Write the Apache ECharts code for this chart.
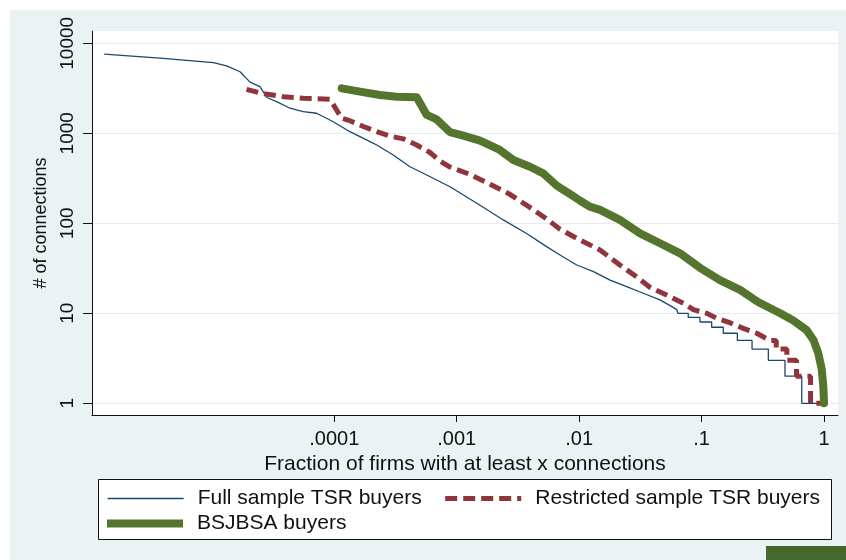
<!DOCTYPE html>
<html>
<head>
<meta charset="utf-8">
<script src="https://cdn.jsdelivr.net/npm/echarts@6/dist/echarts.min.js"></script>
<style>
    html, body { margin: 0; padding: 0; background: #fff; }
    #chart { width: 846px; height: 560px; }
</style>
</head>
<body>
<div id="chart"></div>
<script>
// Tên các đường
var seriesNames = ['Full sample TSR buyers', 'Restricted sample TSR buyers', 'BSJBSA buyers'];

// Full sample TSR buyers: x = fraction of firms, y = # of connections
var fullX = [1.32e-6, 4.0e-6, 1.03e-5, 1.32e-5, 1.70e-5, 2.05e-5, 2.47e-5, 2.81e-5, 3.38e-5, 4.35e-5,
    5.58e-5, 7.18e-5, 9.82e-5, 1.34e-4, 1.96e-4, 2.22e-4, 3.03e-4, 4.15e-4, 5.69e-4, 8.81e-4,
    1.46e-3, 2.40e-3, 3.72e-3, 5.42e-3, 6.97e-3, 9.55e-3, 0.0131, 0.0179, 0.0244, 0.0334,
    0.0457, 0.0562, 0.0627, 0.064, 0.0778, 0.0778, 0.097, 0.097, 0.1208, 0.1208,
    0.1503, 0.1503, 0.1959, 0.1959, 0.2582, 0.2582, 0.3508, 0.3508, 0.4797, 0.4797,
    0.6577, 0.6577, 1];
var fullY = [7600, 6810, 6090, 5600, 4830, 3700, 3300, 2500, 2245, 1900,
    1740, 1670, 1345, 1042, 807, 741, 574, 425, 344, 255,
    167, 109, 77, 55, 44.5, 34.4, 29, 23.4, 19.8, 16.7,
    14.1, 12, 11, 10, 10, 9, 9, 8, 8, 7,
    7, 6, 6, 5, 5, 4, 4, 3, 3, 2,
    2, 1, 1];

// Restricted sample TSR buyers
var restrictedX = [1.92e-5, 2.55e-5, 3.85e-5, 5.58e-5, 9.23e-5, 1.15e-4, 1.34e-4, 1.73e-4, 2.22e-4, 2.85e-4,
    3.66e-4, 4.71e-4, 6.05e-4, 7.29e-4, 8.81e-4, 1.28e-3, 1.87e-3, 2.72e-3, 3.96e-3, 5.42e-3,
    6.97e-3, 0.0102, 0.0148, 0.0215, 0.0294, 0.0378, 0.0552, 0.071, 0.0855, 0.11,
    0.133, 0.165, 0.219, 0.282, 0.36, 0.407, 0.407, 0.497, 0.497, 0.596,
    0.596, 0.776, 0.776, 1];
var restrictedY = [3083, 2782, 2553, 2450, 2387, 1468, 1380, 1190, 1042, 930,
    868, 741, 612, 494, 422, 350, 272, 210, 150, 112,
    86, 65, 50.5, 34.4, 25.5, 19.5, 15.3, 12.9, 11, 10,
    8.8, 8, 6.8, 6, 5, 5, 4, 4, 3, 3,
    2, 2, 1, 1];

// BSJBSA buyers
var bsjbsaX = [1.15e-4, 1.62e-4, 2.36e-4, 3.23e-4, 4.71e-4, 5.69e-4, 6.85e-4, 8.81e-4, 1.13e-3, 1.55e-3,
    2.25e-3, 2.90e-3, 3.96e-3, 5.09e-3, 6.55e-3, 8.95e-3, 0.0102, 0.0122, 0.0148, 0.0215,
    0.0314, 0.0457, 0.0667, 0.097, 0.141, 0.206, 0.264, 0.3, 0.438, 0.561,
    0.721, 0.819, 0.897, 0.957, 0.986, 1];
var bsjbsaY = [3160, 2900, 2665, 2553, 2512, 1600, 1431, 1030, 940, 830,
    653, 505, 425, 359, 262, 200, 178, 153, 141, 109,
    77.4, 60, 46.4, 32, 23.4, 18.2, 14.5, 13, 10, 8.3,
    6.5, 5.05, 3.6, 2.4, 1.55, 1];

// Nhãn trục
var xTickValues = [0.0001, 0.001, 0.01, 0.1, 1];
var xTickLabels = ['.0001', '.001', '.01', '.1', '1'];
var yTickValues = [1, 10, 100, 1000, 10000];
var yTickLabels = ['1', '10', '100', '1000', '10000'];

var colors = ['#1a476f', '#90353b', '#55752f'];
var widths = [1.3, 5, 8];

function toPairs(xs, ys) {
    return xs.map((x, i) => [x, ys[i]]);
}

function tickFormatter(values, labels) {
    return function (v) {
        var i = values.findIndex(t => Math.abs(Math.log10(t) - Math.log10(v)) < 0.01);
        return i >= 0 ? labels[i] : '';
    };
}

// mục chú thích, độ dày nét giống đường vẽ
function legendItem(i) {
    return { name: seriesNames[i], lineStyle: { width: widths[i], cap: 'butt' } };
}

function drawChart() {
    var chartDom = document.getElementById('chart');
    var myChart = echarts.init(chartDom, null, { renderer: 'canvas' });

    var textColor = '#111';
    var legendText = {
        fontSize: 21,
        fontFamily: 'Liberation Sans',
        color: textColor,
        lineHeight: 14,
        padding: [0, 0, 0, 9]
    };

    var option = {
        backgroundColor: '#fff',
        animation: false,
        graphic: [
            // nền xám xanh bên ngoài vùng vẽ
            { type: 'rect', z: -10, silent: true, shape: { x: 10, y: 10, width: 836, height: 550 }, style: { fill: '#eaf2f3' } },
            // khung chú thích
            { type: 'rect', z: 1, silent: true, shape: { x: 98.5, y: 479.5, width: 733, height: 60 }, style: { fill: '#fff', stroke: '#111', lineWidth: 1 } },
            { type: 'rect', z: 1, silent: true, shape: { x: 766, y: 546, width: 80, height: 14 }, style: { fill: '#46682c' } }
        ],
        grid: {
            left: 92,
            right: 8,
            top: 31,
            bottom: 145,
            show: true,
            backgroundColor: '#fff',
            borderWidth: 0
        },
        legend: [{
            data: [legendItem(0), legendItem(1)],
            left: 107,
            top: 488,
            padding: 0,
            itemWidth: 76,
            itemHeight: 14,
            itemGap: 21,
            selectedMode: false,
            itemStyle: { opacity: 0 },
            textStyle: legendText
        }, {
            data: [legendItem(2)],
            left: 103,
            top: 513,
            padding: 0,
            itemWidth: 76,
            itemHeight: 14,
            selectedMode: false,
            itemStyle: { opacity: 0 },
            textStyle: legendText
        }],
        xAxis: {
            type: 'log',
            logBase: 10,
            min: 1.05e-6,
            max: 1.3,
            name: 'Fraction of firms with at least x connections',
            nameLocation: 'middle',
            nameGap: 31,
            nameTextStyle: { fontSize: 21, fontFamily: 'Liberation Sans', color: textColor },
            axisLine: { show: true, onZero: false, lineStyle: { color: '#111', width: 1 } },
            axisTick: { show: true, customValues: xTickValues, length: 7, lineStyle: { color: '#111' } },
            axisLabel: {
                customValues: xTickValues,
                formatter: tickFormatter(xTickValues, xTickLabels),
                fontSize: 20,
                fontFamily: 'Liberation Sans',
                color: textColor,
                margin: 14
            },
            splitLine: { show: false }
        },
        yAxis: {
            type: 'log',
            logBase: 10,
            min: 0.741,
            max: 13700,
            name: '# of connections',
            nameLocation: 'middle',
            nameGap: 33,
            nameTextStyle: { fontSize: 18, fontFamily: 'Liberation Sans', color: textColor },
            axisLine: { show: true, onZero: false, lineStyle: { color: '#111', width: 1 } },
            axisTick: { show: true, customValues: yTickValues, length: 9, lineStyle: { color: '#111' } },
            axisLabel: {
                customValues: yTickValues,
                formatter: tickFormatter(yTickValues, yTickLabels),
                rotate: 90,
                fontSize: 19,
                fontFamily: 'Liberation Sans',
                color: textColor,
                margin: 15
            },
            splitLine: { show: true, lineStyle: { color: '#e4edf1', width: 1 } }
        },
        series: [{
            name: seriesNames[0],
            type: 'line',
            data: toPairs(fullX, fullY),
            symbol: 'none',
            silent: true,
            itemStyle: { color: colors[0] },
            lineStyle: { color: colors[0], width: widths[0] }
        }, {
            name: seriesNames[1],
            type: 'line',
            data: toPairs(restrictedX, restrictedY),
            symbol: 'none',
            silent: true,
            itemStyle: { color: colors[1] },
            lineStyle: { color: colors[1], width: widths[1], type: [12, 6] }
        }, {
            name: seriesNames[2],
            type: 'line',
            data: toPairs(bsjbsaX, bsjbsaY),
            symbol: 'none',
            silent: true,
            itemStyle: { color: colors[2] },
            lineStyle: { color: colors[2], width: widths[2], cap: 'round', join: 'round' }
        }]
    };

    myChart.setOption(option);
}
drawChart();
</script>
</body>
</html>
